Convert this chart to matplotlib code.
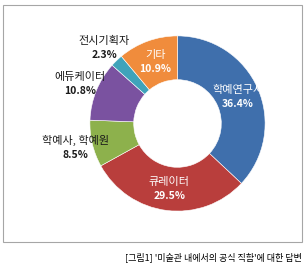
import numpy as np
import matplotlib
matplotlib.use("Agg")
import matplotlib.pyplot as plt
from matplotlib.patches import Rectangle

plt.rcParams['font.family'] = ['Noto Sans CJK KR', 'DejaVu Sans']

labels = ['학예연구사', '큐레이터', '학예사, 학예원', '에듀케이터', '전시기획자', '기타']
values = [36.4, 29.5, 8.5, 10.8, 2.3, 10.9]
colors = ['#3F6FAC', '#B93E3C', '#8DB14C', '#7A52A0', '#3FA3BA', '#F08C3C']
inside = [True, True, False, False, False, True]

W, H = 307, 265
fig = plt.figure(figsize=(W / 100, H / 100), dpi=100)

# chart frame
fig.patches.append(Rectangle((3 / W, 1 - 242 / H), 299 / W, 237 / H,
                             transform=fig.transFigure, fill=False,
                             edgecolor='#A6A6A6', linewidth=0.8))

cx, cy, r = 177.5, 123.5, 109.5
ax = fig.add_axes([(cx - r) / W, 1 - (cy + r) / H, 2 * r / W, 2 * r / H])
ax.set_xlim(-1, 1)
ax.set_ylim(-1, 1)
ax.axis('off')

wedges, _ = ax.pie(values, colors=colors, startangle=90, counterclock=False,
                   radius=1, wedgeprops=dict(width=0.5, edgecolor='white', linewidth=0.4))

for w, lab, v, ins in zip(wedges, labels, values, inside):
    ang = np.deg2rad((w.theta1 + w.theta2) / 2)
    dist = 0.75 if ins else 1.2
    x, y = dist * np.cos(ang), dist * np.sin(ang)
    col = 'white' if ins else '#1a1a1a'
    ax.annotate(lab, (x, y), xytext=(0, 5), textcoords='offset points',
                ha='center', va='center', color=col, fontsize=8,
                annotation_clip=False)
    ax.annotate(f'{v}%', (x, y), xytext=(0, -5), textcoords='offset points',
                ha='center', va='center', color=col, fontsize=7.5,
                fontweight='bold', annotation_clip=False)

fig.text(302 / W, 1 - 257 / H, "[그림1] '미술관 내에서의 공식 직함'에 대한 답변",
         ha='right', va='center', fontsize=6.5, color='black')

fig.savefig('out.png', dpi=100)
